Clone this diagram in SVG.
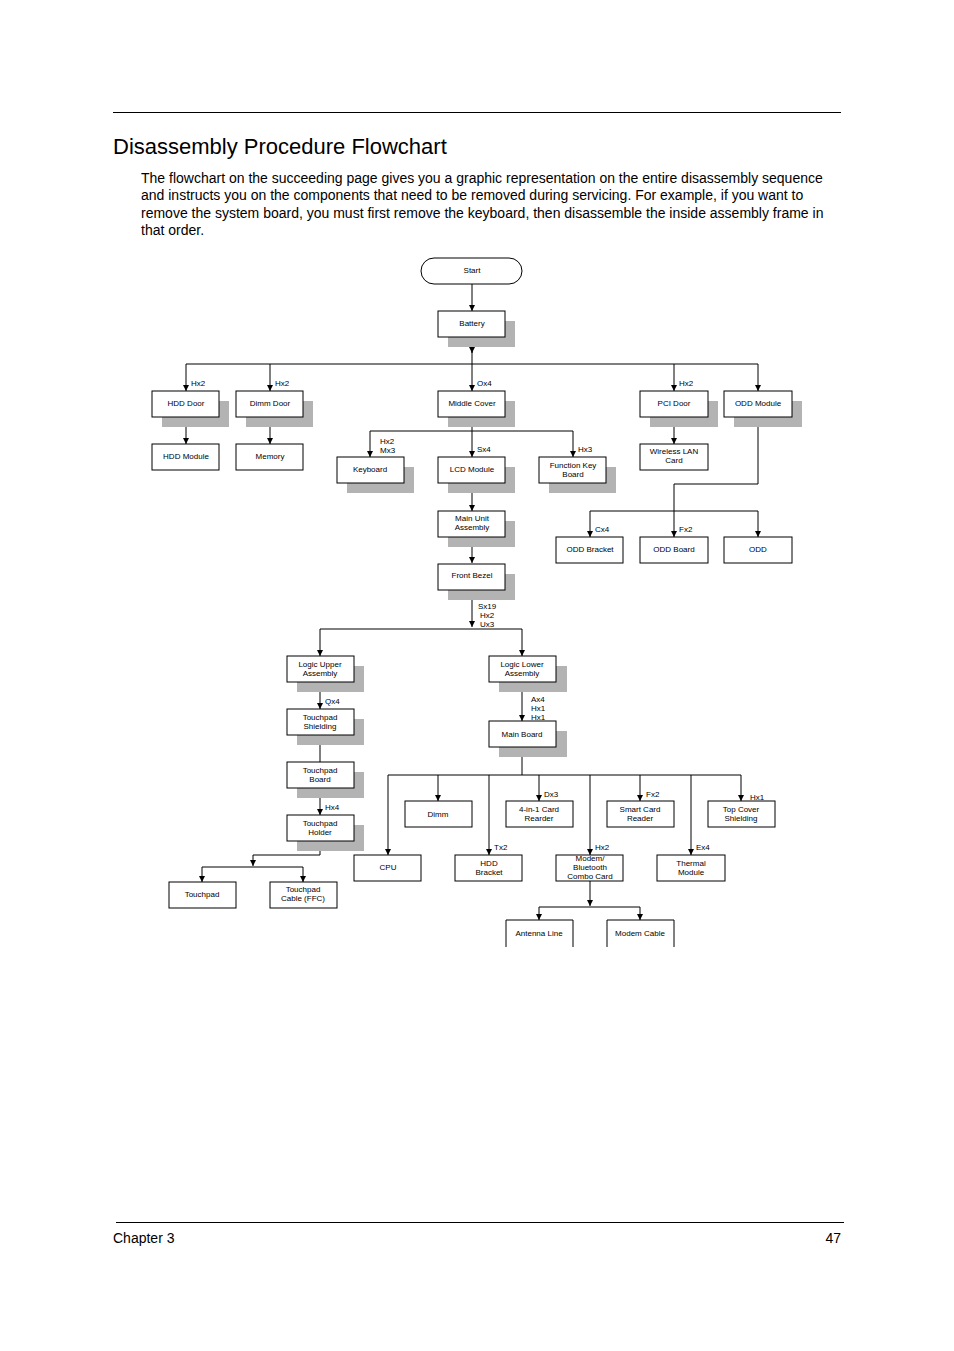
<svg xmlns="http://www.w3.org/2000/svg" width="954" height="1351" viewBox="0 0 954 1351">
<style>
text{font-family:"Liberation Sans",Arial,sans-serif;fill:#000}
.t{font-size:8px;text-anchor:middle}
.l{font-size:8px}
.b{fill:#fff;stroke:#000;stroke-width:1}
.s{fill:#b3b3b3}
.c{fill:none;stroke:#000;stroke-width:1}
</style>
<defs><marker id="a" markerWidth="8" markerHeight="8" refX="6" refY="3" orient="auto" markerUnits="userSpaceOnUse"><path d="M0,0L6,3L0,6z"/></marker></defs>
<rect width="954" height="1351" fill="#fff"/>
<line x1="113" y1="112.5" x2="841" y2="112.5" stroke="#000"/>
<text x="113" y="154" font-size="22">Disassembly Procedure Flowchart</text>
<g font-size="14">
<text x="141" y="183">The flowchart on the succeeding page gives you a graphic representation on the entire disassembly sequence</text>
<text x="141" y="200">and instructs you on the components that need to be removed during servicing. For example, if you want to</text>
<text x="141" y="218">remove the system board, you must first remove the keyboard, then disassemble the inside assembly frame in</text>
<text x="141" y="235">that order.</text>
</g>
<line x1="116" y1="1222.5" x2="844" y2="1222.5" stroke="#000"/>
<text x="113" y="1243" font-size="14">Chapter 3</text>
<text x="841" y="1243" font-size="14" text-anchor="end">47</text>

<g id="connectors" class="c" marker-end="url(#a)">
<path d="M472,284V311"/>
<path d="M472,337V353"/><path d="M472,350V364"  marker-end="none"/>
<path d="M186,364H758" marker-end="none"/>
<path d="M186,364V391"/><path d="M270,364V391"/><path d="M472,364V391"/><path d="M674,364V391"/><path d="M758,364V391"/>
<path d="M186,417V444"/><path d="M270,417V444"/><path d="M674,417V444"/>
<path d="M370,431H573" marker-end="none"/>
<path d="M472,417V457"/><path d="M370,431V457"/><path d="M573,431V457"/>
<path d="M758,417V484H674V511" marker-end="none"/>
<path d="M590,511H758" marker-end="none"/>
<path d="M590,511V537"/><path d="M674,511V537"/><path d="M758,511V537"/>
<path d="M472,483V511"/><path d="M472,537V563"/>
<path d="M472,590V627"/><path d="M320,629H522" marker-end="none"/>
<path d="M320,629V656"/><path d="M522,629V656"/>
<path d="M320,682V709"/><path d="M320,735V762" marker-end="none"/><path d="M320,788V815"/>
<path d="M320,841V855H253V866" /><path d="M202,867H303" marker-end="none"/>
<path d="M202,867V882"/><path d="M303,867V882"/>
<path d="M522,682V721"/>
<path d="M522,747V775" marker-end="none"/><path d="M388,775H741" marker-end="none"/>
<path d="M388,775V855"/><path d="M438,775V801"/><path d="M489,775V855"/><path d="M539,775V801"/><path d="M590,775V855"/><path d="M640,775V801"/><path d="M691,775V855"/><path d="M741,775V801"/>
<path d="M590,881V906"/><path d="M539,907H640" marker-end="none"/>
<path d="M539,907V920"/><path d="M640,907V920"/>
</g>
<g id="labels" class="l">
<text x="191" y="386">Hx2</text><text x="275" y="386">Hx2</text><text x="477" y="386">Ox4</text><text x="679" y="386">Hx2</text>
<text x="380" y="444">Hx2</text><text x="380" y="453">Mx3</text><text x="477" y="452">Sx4</text><text x="578" y="452">Hx3</text>
<text x="595" y="532">Cx4</text><text x="679" y="532">Fx2</text>
<text x="478" y="609">Sx19</text><text x="480" y="618">Hx2</text><text x="480" y="627">Ux3</text>
<text x="325" y="704">Qx4</text><text x="325" y="810">Hx4</text>
<text x="531" y="702">Ax4</text><text x="531" y="711">Hx1</text><text x="531" y="720">Hx1</text>
<text x="544" y="797">Dx3</text><text x="646" y="797">Fx2</text><text x="750" y="800">Hx1</text>
<text x="494" y="850">Tx2</text><text x="595" y="850">Hx2</text><text x="696" y="850">Ex4</text>
</g>
<g id="start"><rect class="b" x="421" y="258" width="101" height="26" rx="13"/><text class="t" x="472" y="273">Start</text></g>
<g id="battery"><rect class="s" x="448" y="321" width="67" height="26"/><rect class="b" x="438" y="311" width="67" height="26"/><text class="t" x="472" y="326">Battery</text></g>
<g id="hdd-door"><rect class="s" x="162" y="401" width="67" height="26"/><rect class="b" x="152" y="391" width="67" height="26"/><text class="t" x="186" y="406">HDD Door</text></g>
<g id="dimm-door"><rect class="s" x="246" y="401" width="67" height="26"/><rect class="b" x="236" y="391" width="67" height="26"/><text class="t" x="270" y="406">Dimm Door</text></g>
<g id="middle-cover"><rect class="s" x="448" y="401" width="67" height="26"/><rect class="b" x="438" y="391" width="67" height="26"/><text class="t" x="472" y="406">Middle Cover</text></g>
<g id="pci-door"><rect class="s" x="650" y="401" width="68" height="26"/><rect class="b" x="640" y="391" width="68" height="26"/><text class="t" x="674" y="406">PCI Door</text></g>
<g id="odd-module"><rect class="s" x="734" y="401" width="68" height="26"/><rect class="b" x="724" y="391" width="68" height="26"/><text class="t" x="758" y="406">ODD Module</text></g>
<g id="hdd-module"><rect class="b" x="152" y="444" width="67" height="26"/><text class="t" x="186" y="459">HDD Module</text></g>
<g id="memory"><rect class="b" x="236" y="444" width="67" height="26"/><text class="t" x="270" y="459">Memory</text></g>
<g id="wlan"><rect class="b" x="640" y="444" width="68" height="26"/><text class="t" x="674" y="454">Wireless LAN</text><text class="t" x="674" y="463">Card</text></g>
<g id="keyboard"><rect class="s" x="347" y="467" width="67" height="26"/><rect class="b" x="337" y="457" width="67" height="26"/><text class="t" x="370" y="472">Keyboard</text></g>
<g id="lcd"><rect class="s" x="448" y="467" width="67" height="26"/><rect class="b" x="438" y="457" width="67" height="26"/><text class="t" x="472" y="472">LCD Module</text></g>
<g id="fkb"><rect class="s" x="549" y="467" width="67" height="26"/><rect class="b" x="539" y="457" width="67" height="26"/><text class="t" x="573" y="468">Function Key</text><text class="t" x="573" y="477">Board</text></g>
<g id="main-unit"><rect class="s" x="448" y="521" width="67" height="26"/><rect class="b" x="438" y="511" width="67" height="26"/><text class="t" x="472" y="521">Main Unit</text><text class="t" x="472" y="530">Assembly</text></g>
<g id="odd-bracket"><rect class="b" x="556" y="537" width="67" height="26"/><text class="t" x="590" y="552">ODD Bracket</text></g>
<g id="odd-board"><rect class="b" x="640" y="537" width="68" height="26"/><text class="t" x="674" y="552">ODD Board</text></g>
<g id="odd"><rect class="b" x="724" y="537" width="68" height="26"/><text class="t" x="758" y="552">ODD</text></g>
<g id="front-bezel"><rect class="s" x="448" y="574" width="67" height="26"/><rect class="b" x="438" y="564" width="67" height="26"/><text class="t" x="472" y="578">Front Bezel</text></g>
<g id="logic-upper"><rect class="s" x="297" y="666" width="67" height="26"/><rect class="b" x="287" y="656" width="67" height="26"/><text class="t" x="320" y="667">Logic Upper</text><text class="t" x="320" y="676">Assembly</text></g>
<g id="logic-lower"><rect class="s" x="499" y="666" width="68" height="26"/><rect class="b" x="489" y="656" width="67" height="26"/><text class="t" x="522" y="667">Logic Lower</text><text class="t" x="522" y="676">Assembly</text></g>
<g id="tp-shield"><rect class="s" x="297" y="719" width="67" height="26"/><rect class="b" x="287" y="709" width="67" height="26"/><text class="t" x="320" y="720">Touchpad</text><text class="t" x="320" y="729">Shielding</text></g>
<g id="tp-board"><rect class="s" x="297" y="772" width="67" height="26"/><rect class="b" x="287" y="762" width="67" height="26"/><text class="t" x="320" y="773">Touchpad</text><text class="t" x="320" y="782">Board</text></g>
<g id="tp-holder"><rect class="s" x="297" y="825" width="67" height="26"/><rect class="b" x="287" y="815" width="67" height="26"/><text class="t" x="320" y="826">Touchpad</text><text class="t" x="320" y="835">Holder</text></g>
<g id="touchpad"><rect class="b" x="169" y="882" width="67" height="26"/><text class="t" x="202" y="897">Touchpad</text></g>
<g id="tp-cable"><rect class="b" x="270" y="882" width="67" height="26"/><text class="t" x="303" y="892">Touchpad</text><text class="t" x="303" y="901">Cable (FFC)</text></g>
<g id="main-board"><rect class="s" x="499" y="731" width="68" height="26"/><rect class="b" x="489" y="721" width="67" height="26"/><text class="t" x="522" y="737">Main Board</text></g>
<g id="cpu"><rect class="b" x="354" y="855" width="67" height="26"/><text class="t" x="388" y="870">CPU</text></g>
<g id="dimm"><rect class="b" x="405" y="801" width="67" height="26"/><text class="t" x="438" y="817">Dimm</text></g>
<g id="hdd-bracket"><rect class="b" x="455" y="855" width="67" height="26"/><text class="t" x="489" y="866">HDD</text><text class="t" x="489" y="875">Bracket</text></g>
<g id="card-reader"><rect class="b" x="506" y="801" width="67" height="26"/><text class="t" x="539" y="812">4-in-1 Card</text><text class="t" x="539" y="821">Rearder</text></g>
<g id="modem"><rect class="b" x="556" y="855" width="67" height="26"/><text class="t" x="590" y="861">Modem/</text><text class="t" x="590" y="870">Bluetooth</text><text class="t" x="590" y="879">Combo Card</text></g>
<g id="smart-card"><rect class="b" x="607" y="801" width="67" height="26"/><text class="t" x="640" y="812">Smart Card</text><text class="t" x="640" y="821">Reader</text></g>
<g id="thermal"><rect class="b" x="657" y="855" width="68" height="26"/><text class="t" x="691" y="866">Thermal</text><text class="t" x="691" y="875">Module</text></g>
<g id="top-cover"><rect class="b" x="708" y="801" width="67" height="26"/><text class="t" x="741" y="812">Top Cover</text><text class="t" x="741" y="821">Shielding</text></g>
<g id="antenna"><path class="c" d="M506,947V920H573V947"/><text class="t" x="539" y="936">Antenna Line</text></g>
<g id="modem-cable"><path class="c" d="M607,947V920H674V947"/><text class="t" x="640" y="936">Modem Cable</text></g>
</svg>
